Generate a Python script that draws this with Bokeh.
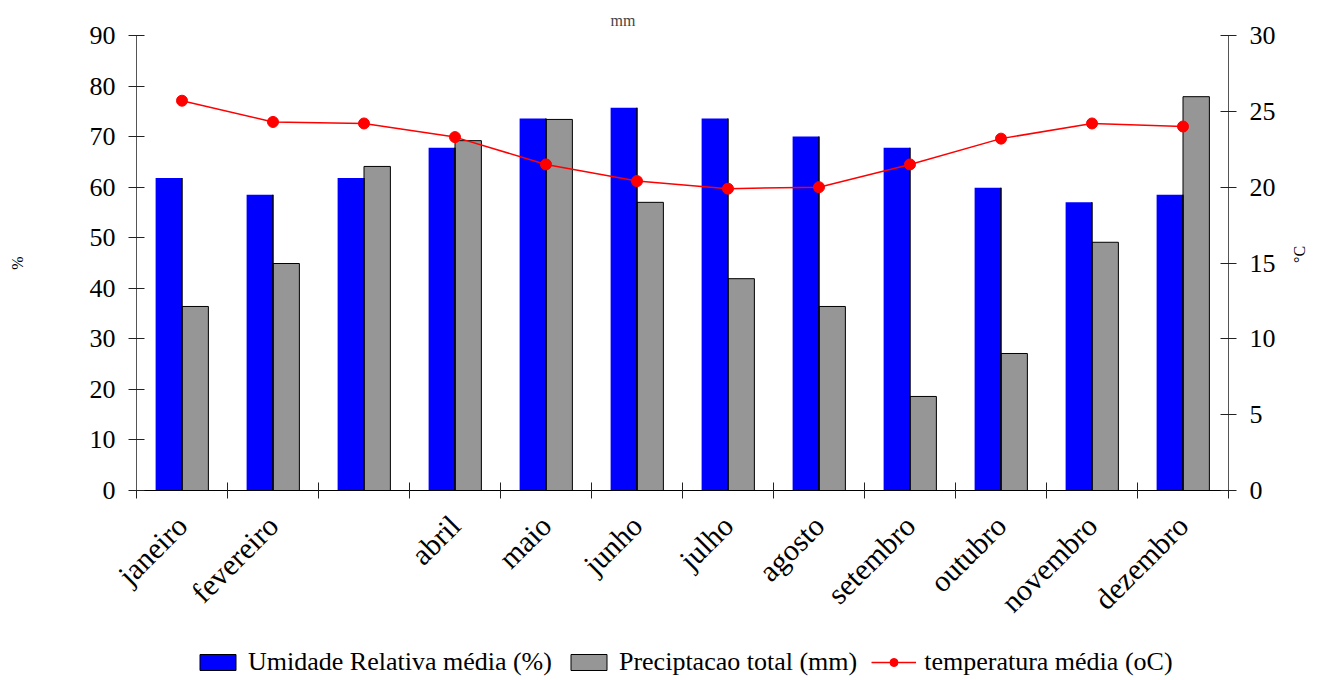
import math
import numpy as np
from bokeh.plotting import figure
from bokeh.layouts import column
from bokeh.models import (Range1d, LinearAxis, FixedTicker, ColumnDataSource,
                          Legend, LegendItem)
from bokeh.embed import file_html
from bokeh.resources import INLINE

months = ["janeiro", "fevereiro", "março", "abril", "maio", "junho", "julho",
          "agosto", "setembro", "outubro", "novembro", "dezembro"]
# the reference shows no label under março
tick_labels = ["janeiro", "fevereiro", "", "abril", "maio", "junho", "julho",
               "agosto", "setembro", "outubro", "novembro", "dezembro"]
humidity = [61.8, 58.5, 61.8, 67.8, 73.6, 75.7, 73.6, 70.0, 67.8, 59.9, 57.0, 58.5]
precip = [36.4, 44.9, 64.1, 69.2, 73.4, 57.0, 41.9, 36.4, 18.6, 27.1, 49.1, 77.9]
temperature = [25.7, 24.3, 24.2, 23.3, 21.5, 20.4, 19.9, 20.0, 21.5, 23.2, 24.2, 24.0]
left_ticks = list(range(0, 91, 10))
right_ticks = list(range(0, 31, 5))
series_names = ["Umidade Relativa média (%)", "Preciptacao total (mm)",
                "temperatura média (oC)"]

FONT = "Liberation Serif"
BLUE, GRAY, RED = "#0000FF", "#969696", "#FF0000"
BAR_W = 0.29

idx = np.arange(len(months))
src = ColumnDataSource(dict(x=idx, xb=idx - BAR_W / 2, xg=idx + BAR_W / 2,
                            zero=[0] * len(months),
                            hum=humidity, pre=precip, temp=temperature))

p = figure(width=1324, height=645, output_backend="svg", toolbar_location=None,
           x_range=Range1d(-0.5, len(months) - 0.5), y_range=Range1d(0, 90),
           x_axis_type=None, y_axis_type=None)
p.extra_y_ranges = {"temp": Range1d(0, 30)}
p.min_border_left = 136
p.min_border_right = 96
p.min_border_top = 35
p.min_border_bottom = 155
p.outline_line_color = None
p.xgrid.visible = False
p.ygrid.visible = False

# title
p.title.text = "mm"
p.title.text_font = FONT
p.title.text_font_style = "normal"
p.title.text_font_size = "16px"
p.title.align = "left"
p.title.offset = 474
p.title.standoff = 13

def style_y(ax):
    ax.axis_line_color = "#555555"
    ax.major_tick_line_color = "#222222"
    ax.major_tick_in = 8
    ax.major_tick_out = 8
    ax.minor_tick_line_color = None
    ax.major_label_text_font = FONT
    ax.major_label_text_font_size = "26px"
    ax.major_label_text_color = "black"
    ax.major_label_standoff = 13
    ax.axis_label_text_font = FONT
    ax.axis_label_text_font_size = "16px"
    ax.axis_label_text_font_style = "normal"
    ax.axis_label_text_color = "black"

left = LinearAxis(ticker=FixedTicker(ticks=left_ticks), axis_label="%")
style_y(left)
left.axis_label_standoff = 61
p.add_layout(left, "left")

right = LinearAxis(y_range_name="temp", ticker=FixedTicker(ticks=right_ticks), axis_label="°C")
style_y(right)
right.axis_label_standoff = 21
if "axis_label_orientation" in right.properties():
    right.axis_label_orientation = math.pi / 2
p.add_layout(right, "right")

bottom = LinearAxis(ticker=FixedTicker(ticks=list(idx),
                                       minor_ticks=[i - 0.5 for i in range(len(months) + 1)]),
                    major_label_overrides={int(i): lab for i, lab in zip(idx, tick_labels)})
bottom.axis_line_color = "black"
bottom.major_tick_line_color = None
bottom.minor_tick_line_color = "#222222"
bottom.minor_tick_in = 8
bottom.minor_tick_out = 8
bottom.major_tick_in = 0
bottom.major_tick_out = 0
bottom.major_label_orientation = math.pi / 4
bottom.major_label_text_font = FONT
bottom.major_label_text_font_size = "30px"
bottom.major_label_text_color = "black"
bottom.major_label_standoff = 22
p.add_layout(bottom, "below")

p.vbar(x="xb", top="hum", width=BAR_W, source=src, fill_color=BLUE, line_color=None)
p.vbar(x="xg", top="pre", width=BAR_W, source=src, fill_color=GRAY,
       line_color="black", line_width=1)
# dark right edge on the blue bars, as in the reference
p.segment(x0="x", y0="zero", x1="x", y1="hum", source=src, line_color="black", line_width=1.5)
p.line(x="x", y="temp", source=src, y_range_name="temp", line_color=RED, line_width=1.5)
p.scatter(x="x", y="temp", source=src, y_range_name="temp", size=11,
          fill_color=RED, line_color=RED)

# legend strip below the chart: hidden copies of the series provide the keys
lg = figure(width=1324, height=35, output_backend="svg", toolbar_location=None,
            x_axis_type=None, y_axis_type=None, min_border=0)
lg.outline_line_color = None
lg.xgrid.visible = False
lg.ygrid.visible = False
k1 = lg.vbar(x="xb", top="hum", width=BAR_W, source=src, fill_color=BLUE, line_color="black",
             visible=False)
k2 = lg.vbar(x="xg", top="pre", width=BAR_W, source=src, fill_color=GRAY, line_color="black",
             visible=False)
k3 = lg.line(x="x", y="temp", source=src, line_color=RED, line_width=1.5, visible=False)
k4 = lg.scatter(x="x", y="temp", source=src, size=11, fill_color=RED, line_color=RED,
                visible=False)

legend = Legend(items=[
    LegendItem(label=series_names[0], renderers=[k1]),
    LegendItem(label=series_names[1], renderers=[k2]),
    LegendItem(label=series_names[2], renderers=[k3, k4]),
], orientation="horizontal", location=(59, 3))
legend.border_line_color = None
legend.background_fill_alpha = 0
legend.inactive_fill_alpha = 0
legend.label_text_font = FONT
legend.label_text_font_size = "26px"
legend.label_text_color = "black"
legend.glyph_width = 45
legend.glyph_height = 20
legend.spacing = 14
legend.label_standoff = 8
legend.padding = 0
legend.margin = 0
lg.add_layout(legend, "center")

layout = column(p, lg, spacing=0)
open("out.html", "w").write(file_html(layout, INLINE))
